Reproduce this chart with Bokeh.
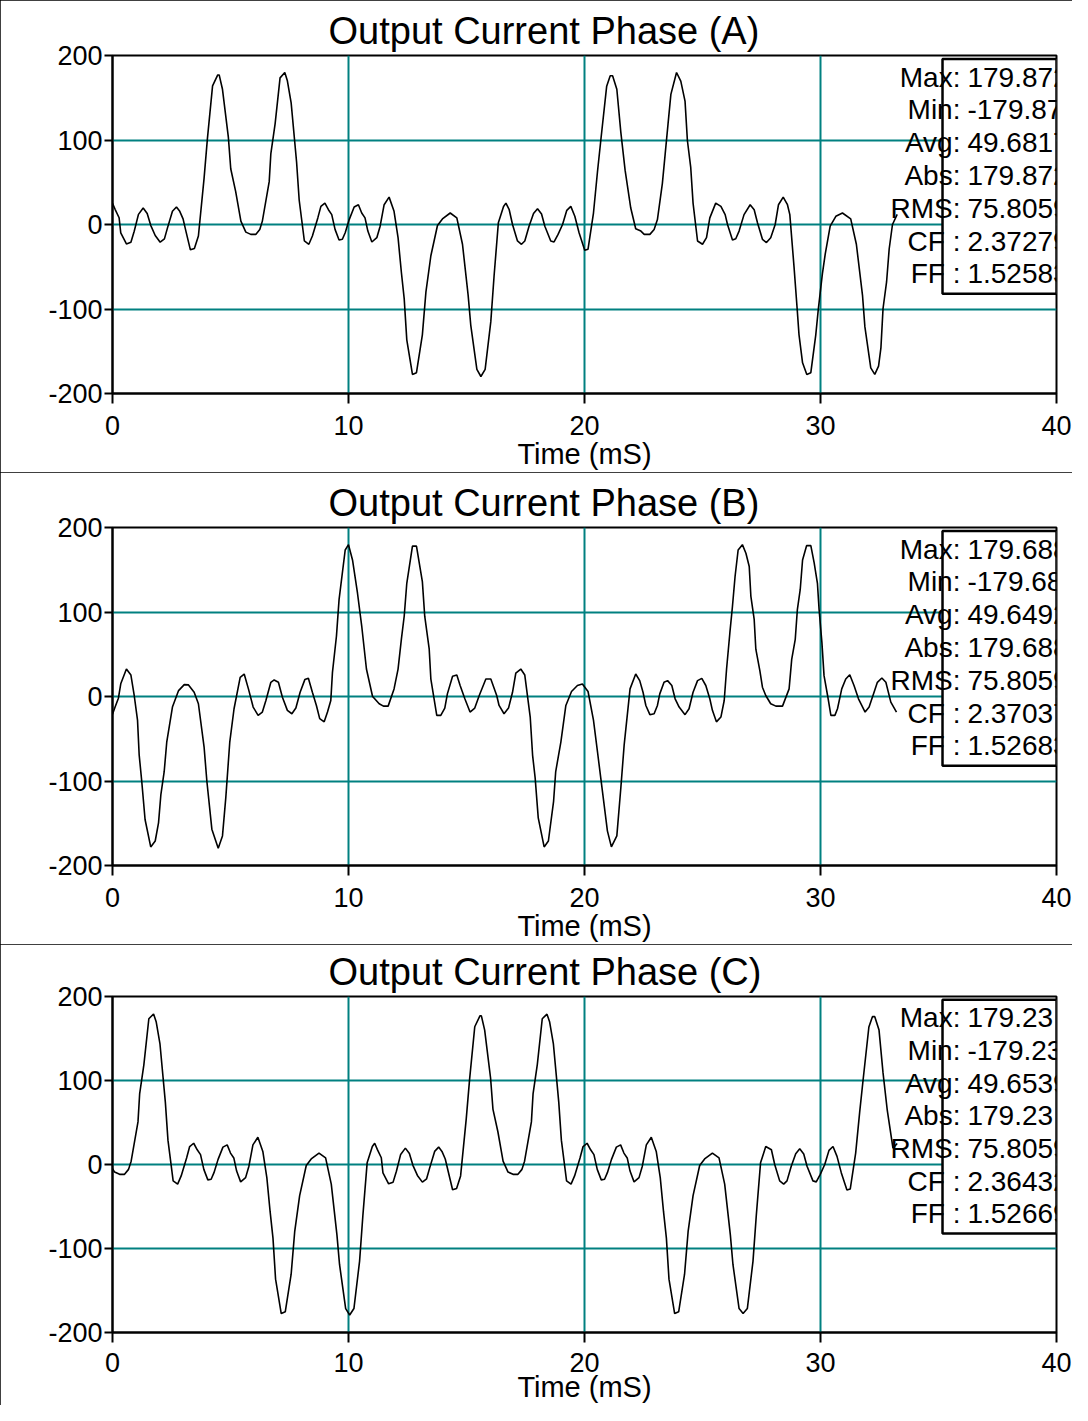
from bokeh.plotting import figure
from bokeh.layouts import column
from bokeh.models import FixedTicker, Range1d, BoxAnnotation, Label, PrintfTickFormatter
from bokeh.embed import file_html
from bokeh.resources import INLINE

# ---------------- data ----------------
x_ticks = [0, 10, 20, 30, 40]
y_ticks = [-200, -100, 0, 100, 200]
x_grid = [10, 20, 30]
y_grid = [-100, 0, 100]

titles = ["Output Current Phase (A)", "Output Current Phase (B)", "Output Current Phase (C)"]
x_label = "Time (mS)"

stat_names = ["Max:", "Min:", "Avg:", "Abs:", "RMS:", "CF :", "FF :"]
stats_a = ["179.872", "-179.87", "49.6817", "179.872", "75.8059", "2.37279", "1.52583"]
stats_b = ["179.688", "-179.68", "49.6492", "179.688", "75.8059", "2.37037", "1.52683"]
stats_c = ["179.23", "-179.23", "49.6539", "179.23", "75.8059", "2.36432", "1.52669"]

time_a = [0.00, 0.11, 0.28, 0.35, 0.59, 0.78, 0.92, 1.10, 1.30, 1.47, 1.62, 1.81, 2.02, 2.20, 2.33,
          2.54, 2.71, 2.85, 2.99, 3.11, 3.30, 3.47, 3.64, 3.88, 4.02, 4.24, 4.46, 4.52, 4.66, 4.91,
          5.01, 5.22, 5.44, 5.65, 5.86, 6.07, 6.24, 6.35, 6.64, 6.71, 6.89, 7.10, 7.30, 7.41, 7.57,
          7.80, 7.91, 8.13, 8.32, 8.47, 8.70, 8.83, 9.00, 9.15, 9.29, 9.43, 9.60, 9.74, 9.86, 10.03,
          10.24, 10.42, 10.56, 10.70, 10.82, 10.99, 11.20, 11.34, 11.51, 11.72, 11.93, 12.10, 12.24,
          12.36, 12.47, 12.71, 12.88, 13.13, 13.28, 13.49, 13.77, 13.98, 14.31, 14.59, 14.83, 15.07,
          15.18, 15.44, 15.61, 15.79, 16.03, 16.17, 16.35, 16.57, 16.67, 16.81, 16.95, 17.16, 17.33,
          17.47, 17.65, 17.84, 18.01, 18.18, 18.32, 18.57, 18.71, 18.88, 19.07, 19.25, 19.42, 19.59,
          19.77, 20.01, 20.15, 20.38, 20.55, 20.69, 20.94, 21.09, 21.19, 21.37, 21.54, 21.72, 21.96,
          22.17, 22.39, 22.53, 22.77, 22.95, 23.09, 23.30, 23.42, 23.54, 23.66, 23.90, 24.08, 24.26,
          24.36, 24.50, 24.60, 24.79, 25.00, 25.17, 25.31, 25.56, 25.78, 25.96, 26.06, 26.27, 26.41,
          26.55, 26.76, 27.02, 27.19, 27.33, 27.54, 27.71, 27.89, 28.08, 28.22, 28.42, 28.60, 28.70,
          28.88, 29.01, 29.09, 29.24, 29.42, 29.59, 29.80, 29.91, 30.08, 30.20, 30.41, 30.65, 30.93,
          31.28, 31.52, 31.78, 31.88, 32.13, 32.30, 32.46, 32.56, 32.65, 32.80, 32.91, 33.05, 33.25]
current_a = [25, 18, 8, -10, -23, -21, -8, 12, 19.5, 13, -1, -13, -21, -17, -4,
             15.6, 20.7, 15.6, 6.6, -7.8, -30, -28.5, -13.6, 54.6, 101, 164, 177, 177, 160, 103,
             66, 39, 4, -9, -11.7, -11.7, -5.8, 4, 50.7, 84, 119, 173.5, 179.9, 170, 144,
             74, 29, -19.5, -23.4, -13.6, 7.8, 21.4, 25.3, 17.5, 11.7, -5.8, -18.3, -17.5, -9.7, 5.8,
             20.7, 23.4, 13.6, 7.8, -7.8, -20.7, -15.6, -2, 23.4, 32.4, 15.6, -15.6, -56.5,
             -87.7, -136.5, -177.4, -175.4, -130.6, -80, -37, -1.2, 6.6, 13.6, 7.8, -23.4, -83.8,
             -119, -171.5, -179.9, -171.5, -115, -60.4, 2, 21.4, 25.3, 17.5, 0, -19.5, -23.4,
             -19.5, -2, 12.9, 18.7, 12.5, -2, -19.5, -20.7, -11.7, 0, 16.8, 21.4, 9.7,
             -9.7, -30.4, -29.2, 13.6, 62.4, 99.4, 163.7, 176, 176, 160, 109, 64.3, 19.5,
             -5, -7.8, -11.7, -11.7, -5.8, 5.8, 48.7, 83.8, 119, 154, 179.9, 169.6, 146,
             99.4, 68, 25.3, -19.5, -23.4, -15.6, 7.8, 25.3, 21.4, 11.7, 0, -18.3, -16.8,
             -7.8, 11.7, 23.4, 17.5, 2, -17.5, -21.4, -15.6, 0, 23.4, 32.4, 23.4, 11.7,
             -50.7, -99.4, -130.6, -163.7, -177.4, -175.4, -130.6, -99.4, -58.5, -35, -2, 9.7, 13.6,
             6.6, -23.4, -83.8, -120.9, -169.6, -177.4, -167.6, -146, -99.4, -68, -29, 0, 12]

time_b = [0.00, 0.11, 0.25, 0.35, 0.59, 0.78, 0.92, 1.06, 1.13, 1.24, 1.38, 1.62, 1.81, 1.95, 2.05,
          2.19, 2.30, 2.54, 2.80, 3.04, 3.22, 3.46, 3.64, 3.88, 4.00, 4.21, 4.48, 4.66, 4.80, 4.97,
          5.15, 5.41, 5.58, 5.76, 5.96, 6.17, 6.35, 6.50, 6.71, 6.85, 7.03, 7.20, 7.41, 7.60, 7.77,
          7.95, 8.15, 8.30, 8.47, 8.64, 8.78, 8.97, 9.11, 9.25, 9.32, 9.49, 9.60, 9.86, 10.00, 10.17,
          10.38, 10.56, 10.76, 11.02, 11.09, 11.30, 11.48, 11.68, 11.93, 12.10, 12.24, 12.36, 12.47,
          12.71, 12.88, 13.13, 13.23, 13.42, 13.49, 13.74, 13.91, 14.08, 14.19, 14.41, 14.59, 14.73,
          14.93, 15.15, 15.35, 15.54, 15.82, 16.03, 16.28, 16.38, 16.59, 16.78, 16.95, 17.09, 17.30,
          17.47, 17.70, 17.80, 17.91, 18.04, 18.29, 18.47, 18.69, 18.78, 19.00, 19.21, 19.45, 19.70,
          19.91, 20.15, 20.38, 20.55, 20.69, 20.97, 21.14, 21.37, 21.54, 21.68, 21.93, 22.17, 22.34,
          22.48, 22.60, 22.77, 22.95, 23.09, 23.19, 23.37, 23.52, 23.70, 23.84, 24.01, 24.26, 24.43,
          24.60, 24.79, 24.97, 25.14, 25.31, 25.42, 25.59, 25.78, 25.92, 26.02, 26.16, 26.27, 26.38,
          26.51, 26.69, 26.84, 26.98, 27.05, 27.19, 27.26, 27.43, 27.54, 27.68, 27.89, 28.11, 28.39,
          28.67, 28.78, 28.93, 29.02, 29.14, 29.24, 29.41, 29.59, 29.73, 29.87, 29.94, 30.06, 30.15,
          30.30, 30.44, 30.61, 30.72, 30.90, 31.07, 31.24, 31.42, 31.61, 31.89, 32.06, 32.27, 32.41,
          32.60, 32.77, 32.98, 33.22]
current_b = [-21, -12.5, -2, 15, 32.5, 25.4, 1.2, -28, -69, -100.6, -145.6, -178, -171, -149.5, -116,
             -89, -53.6, -12.5, 7, 14, 13.7, 5, -8.6, -59.5, -100.6, -157, -179.7, -165, -120, -53.6,
             -14.5, 22.7, 26.6, 9, -12.5, -22.3, -18.4, -4.7, 16.8, 19.6, 16.8, -0.8, -16.4, -20.4, -13.7,
             5, 20, 21.5, 5, -10.6, -26.2, -30, -18.4, -4.7, 28.6, 71.6, 114.7, 173.4, 179.7, 161.6,
             122.5, 83.4, 32.5, 0, -2, -8.6, -11.4, -11.4, 9, 32.5, 67.7, 95, 134,
             178, 178, 136, 95, 56, 20.7, -22.3, -22.3, -13.7, 3.1, 23.9, 25.4, 13,
             -2.7, -18.4, -13.7, 1.2, 20.7, 20.7, 1.2, -10.6, -20.4, -13.7, 5, 27.8, 32.5,
             25.4, -24.3, -69.3, -96.7, -143.6, -178, -171, -124, -88.8, -53.6, -10.6, 5.9, 13,
             14.9, 5.9, -28, -65.4, -96.7, -159, -178, -165, -108, -57.5, 9, 26.6, 18.8,
             5, -10.6, -21.5, -20.4, -10.6, 3.1, 16.8, 18.8, 13, -2.7, -12.5, -21.5, -14.5,
             5, 18.8, 21.5, 13, -2.7, -16.4, -30, -24.3, -4.7, 32.5, 75.5, 106.8, 142,
             173.4, 179.7, 169.5, 153.8, 118.6, 91.2, 56, 30.5, 11, 1.2, -8.6, -11.4, -11.4,
             9, 44, 67.7, 102.9, 126.4, 161.6, 178.5, 178.5, 158.5, 134, 102.9, 63.8, 24.7,
             1.2, -22.3, -22.3, -14.5, 9, 20.7, 25.8, 13, -2.7, -18.4, -12.5, 5, 16.8,
             21.9, 16.8, -6.6, -18.4]

time_c = [0.00, 0.09, 0.30, 0.51, 0.68, 0.79, 1.08, 1.15, 1.33, 1.54, 1.74, 1.85, 2.01, 2.24, 2.35,
          2.57, 2.76, 2.91, 3.14, 3.27, 3.44, 3.59, 3.73, 3.87, 4.04, 4.18, 4.30, 4.47, 4.68, 4.86,
          5.00, 5.14, 5.26, 5.43, 5.64, 5.78, 5.95, 6.16, 6.37, 6.54, 6.68, 6.80, 6.91, 7.15, 7.32,
          7.57, 7.72, 7.93, 8.21, 8.42, 8.75, 9.03, 9.27, 9.51, 9.62, 9.88, 10.05, 10.23, 10.47, 10.61,
          10.79, 11.01, 11.11, 11.22, 11.39, 11.46, 11.70, 11.89, 12.03, 12.21, 12.41, 12.58, 12.73,
          12.92, 13.13, 13.31, 13.44, 13.65, 13.82, 13.96, 14.10, 14.22, 14.41, 14.58, 14.75, 14.99,
          15.13, 15.35, 15.57, 15.63, 15.77, 16.02, 16.12, 16.33, 16.55, 16.76, 16.97, 17.18, 17.35,
          17.46, 17.75, 17.82, 18.00, 18.21, 18.41, 18.52, 18.68, 18.91, 19.02, 19.24, 19.43, 19.58,
          19.81, 19.94, 20.11, 20.26, 20.40, 20.54, 20.71, 20.85, 20.97, 21.14, 21.35, 21.53, 21.67,
          21.81, 21.93, 22.10, 22.31, 22.45, 22.62, 22.83, 23.04, 23.21, 23.35, 23.47, 23.58, 23.82,
          23.99, 24.24, 24.39, 24.60, 24.88, 25.09, 25.42, 25.70, 25.94, 26.18, 26.29, 26.55, 26.72,
          26.90, 27.14, 27.28, 27.46, 27.68, 27.92, 28.06, 28.27, 28.44, 28.58, 28.76, 28.95, 29.12,
          29.29, 29.43, 29.68, 29.82, 29.99, 30.18, 30.36, 30.53, 30.70, 30.88, 31.12, 31.26, 31.49,
          31.66, 31.80, 32.05, 32.20, 32.30, 32.48, 32.65, 32.83, 33.07, 33.25]
current_c = [-5, -9, -11.7, -11.7, -5.8, 4, 50.7, 84, 119, 173.5, 179.2, 170, 144, 74, 29,
             -19.5, -23.4, -13.6, 7.8, 21.4, 25.3, 17.5, 11.7, -5.8, -18.3, -17.5, -9.7, 5.8, 20.7, 23.4,
             13.6, 7.8, -7.8, -20.7, -15.6, -2, 23.4, 32.4, 15.6, -15.6, -56.5, -87.7, -136.5, -177.4, -175.4,
             -130.6, -80, -37, -1.2, 6.6, 13.6, 7.8, -23.4, -83.8, -119, -171.5, -179.2, -171.5, -115, -60.4,
             2, 21.4, 25.3, 18, 8, -10, -23, -21, -8, 12, 19.5, 13, -1,
             -13, -21, -17, -4, 15.6, 20.7, 15.6, 6.6, -7.8, -30, -28.5, -13.6, 54.6,
             101, 164, 177, 177, 160, 103, 66, 39, 4, -9, -11.7, -11.7, -5.8,
             4, 50.7, 84, 119, 173.5, 179, 170, 144, 74, 29, -19.5, -23.4, -13.6,
             7.8, 21.4, 25.3, 17.5, 11.7, -5.8, -18.3, -17.5, -9.7, 5.8, 20.7, 23.4, 13.6,
             7.8, -7.8, -20.7, -15.6, -2, 23.4, 32.4, 15.6, -15.6, -56.5, -87.7, -136.5, -177.4,
             -175.4, -130.6, -80, -37, -1.2, 6.6, 13.6, 7.8, -23.4, -83.8, -119, -171.5, -177.4,
             -171.5, -115, -60.4, 2, 21.4, 17.5, 0, -19.5, -23.4, -19.5, -2, 12.9, 18.7,
             12.5, -2, -19.5, -20.7, -11.7, 0, 16.8, 21.4, 9.7, -9.7, -30.4, -29.2, 13.6,
             62.4, 99.4, 163.7, 176, 176, 160, 109, 64.3, 19.5, 25]

# ---------------- styling ----------------
FONT = "Liberation Sans"
TEAL = "#008080"
W = 1072


def make_panel(title, t, v, stats, height, border_top, border_bottom, tick_standoff, label_standoff):
    p = figure(width=W, height=height, output_backend="svg", toolbar_location=None,
               x_range=Range1d(0, 40), y_range=Range1d(-200, 200),
               min_border_left=112, min_border_right=16,
               min_border_top=border_top, min_border_bottom=border_bottom)
    p.styles = {"outline": "3px solid black", "outline-offset": "-3px"}
    p.background_fill_color = "white"
    p.border_fill_color = "white"
    p.outline_line_color = "black"
    p.outline_line_width = 2

    p.title.text = title
    p.title.text_font = FONT
    p.title.text_font_size = "38px"
    p.title.text_font_style = "normal"
    p.title.text_color = "black"
    p.title.align = "left"
    p.title.offset = 216
    p.title.standoff = 7

    p.xaxis.ticker = FixedTicker(ticks=x_ticks)
    p.yaxis.ticker = FixedTicker(ticks=y_ticks)
    p.yaxis.formatter = PrintfTickFormatter(format="%d")
    p.xaxis.formatter = PrintfTickFormatter(format="%d")
    p.xaxis.major_tick_out = 10
    p.yaxis.major_tick_out = 8
    for ax in (p.xaxis, p.yaxis):
        ax.major_tick_in = 0
        ax.minor_tick_line_color = None
        ax.axis_line_width = 2
        ax.axis_line_color = "black"
        ax.major_tick_line_width = 2
        ax.major_tick_line_color = "black"
        ax.major_label_text_font = FONT
        ax.major_label_text_font_size = "27px"
        ax.major_label_text_color = "black"
    p.yaxis.major_label_standoff = 2
    p.xaxis.major_label_standoff = tick_standoff
    p.xaxis.axis_label = x_label
    p.xaxis.axis_label_text_font = FONT
    p.xaxis.axis_label_text_font_size = "29px"
    p.xaxis.axis_label_text_font_style = "normal"
    p.xaxis.axis_label_text_color = "black"
    p.xaxis.axis_label_standoff = label_standoff

    p.xgrid.ticker = FixedTicker(ticks=x_grid)
    p.ygrid.ticker = FixedTicker(ticks=y_grid)
    p.grid.grid_line_color = TEAL
    p.grid.grid_line_width = 2

    p.line(t, v, line_color="black", line_width=1.6)

    p.add_layout(BoxAnnotation(left=35.17, right=40, top=196, bottom=-82,
                               fill_color="white", fill_alpha=1.0,
                               line_color="black", line_alpha=1.0, line_width=2.5,
                               level="annotation"))
    for i, (name, val) in enumerate(zip(stat_names, stats)):
        yy = 174.5 - i * 38.83
        p.add_layout(Label(x=35.93, y=yy, text=name, text_align="right", text_baseline="middle",
                           text_font=FONT, text_font_size="28px", text_color="black"))
        p.add_layout(Label(x=35.93, y=yy, x_offset=7, text=val, text_align="left",
                           text_baseline="middle",
                           text_font=FONT, text_font_size="28px", text_color="black"))
    return p


pa = make_panel(titles[0], time_a, current_a, stats_a, 472, 55, 75, 12, 0)
pb = make_panel(titles[1], time_b, current_b, stats_b, 472, 55, 75, 12, 0)
pc = make_panel(titles[2], time_c, current_c, stats_c, 461, 52, 70, 10, -4)

layout = column(pa, pb, pc, spacing=0)
open("out.html", "w").write(file_html(layout, INLINE, title="Output Current"))
